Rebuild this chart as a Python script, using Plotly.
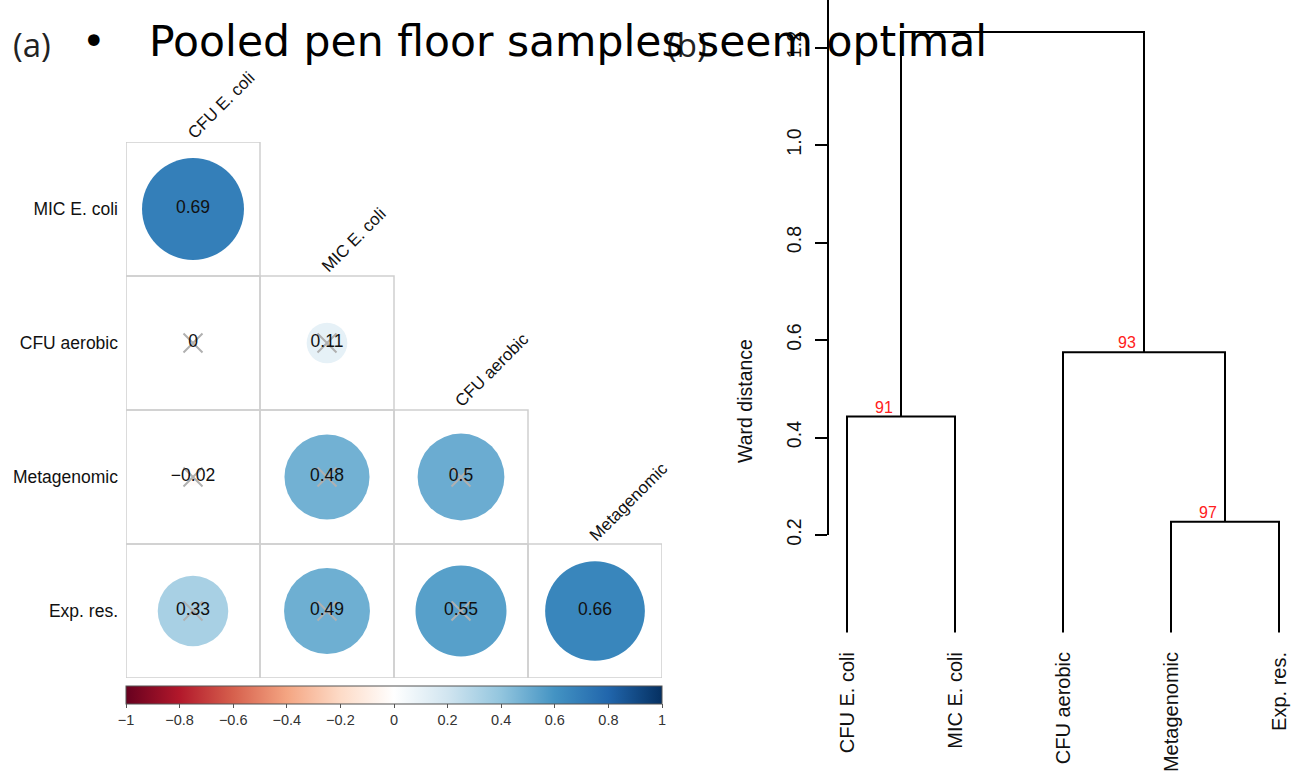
import plotly.graph_objects as go

# ---------------- data ----------------
# (a) correlation matrix, lower triangle
row_labels = ["MIC E. coli", "CFU aerobic", "Metagenomic", "Exp. res."]
col_labels = ["CFU E. coli", "MIC E. coli", "CFU aerobic", "Metagenomic"]
corr_rows = [
    [0.69],
    [0.0, 0.11],
    [-0.02, 0.48, 0.5],
    [0.33, 0.49, 0.55, 0.66],
]
significant_rows = [
    [True],
    [False, False],
    [False, False, False],
    [False, False, False, True],
]

# (b) Ward clustering of the same variables (hclust-style merge table)
leaf_labels = ["CFU E. coli", "MIC E. coli", "CFU aerobic", "Metagenomic", "Exp. res."]
merge_left = [-1, -4, -3, 1]
merge_right = [-2, -5, 2, 3]
merge_height = [0.443, 0.227, 0.575, 1.232]
bootstrap = [91, 97, 93, None]
height_ticks = [0.2, 0.4, 0.6, 0.8, 1.0, 1.2]

colorbar_ticks = [-1, -0.8, -0.6, -0.4, -0.2, 0, 0.2, 0.4, 0.6, 0.8, 1]

# ---------------- page geometry ----------------
W, H = 1294, 778
FONT = "Liberation Sans, Arial, Helvetica, sans-serif"


def fx(px):
    return px / W


def fy(py):
    return 1 - py / H


# correlation grid placement
grid_left, grid_top, cell = 126, 142, 134
n = len(row_labels)
grid_right = grid_left + n * cell
grid_bottom = grid_top + n * cell

# dendrogram placement
leaf_px0, leaf_step = 847, 108
zero_py, px_per_unit = 632.5, 487.5
axis_px = 829
dend_bottom_py = 640


def h_of(py):
    return (zero_py - py) / px_per_unit


def pos_of(px):
    return 1 + (px - leaf_px0) / leaf_step


RdBu = ["#67001F", "#B2182B", "#D6604D", "#F4A582", "#FDDBC7", "#FFFFFF",
        "#D1E5F0", "#92C5DE", "#4393C3", "#2166AC", "#053061"]
colorscale = [[i / (len(RdBu) - 1), c] for i, c in enumerate(RdBu)]

fig = go.Figure()

# ---------------- (a) correlation circles ----------------
cx, cy, cv, sig = [], [], [], []
for i, (vals, sigs) in enumerate(zip(corr_rows, significant_rows), start=1):
    for j, (v, s) in enumerate(zip(vals, sigs), start=1):
        cx.append(j)
        cy.append(i)
        cv.append(v)
        sig.append(s)

full_diam = 0.916 * cell
sizes = [full_diam * abs(v) ** 0.5 for v in cv]

fig.add_trace(go.Scatter(
    x=cx, y=cy, mode="markers", xaxis="x", yaxis="y",
    marker=dict(
        size=sizes, color=cv, colorscale=colorscale, cmin=-1, cmax=1,
        line=dict(width=0), opacity=1,
        showscale=True,
        colorbar=dict(
            orientation="h", x=fx((grid_left + grid_right) / 2), xanchor="center",
            y=fy(grid_bottom + 8), yanchor="top",
            len=grid_right - grid_left, lenmode="pixels", thickness=18,
            xpad=0, ypad=0, outlinewidth=1, outlinecolor="#555555",
            tickvals=colorbar_ticks, ticks="outside", ticklen=4,
            tickcolor="#555555", tickfont=dict(family=FONT, size=14.5, color="#333333"),
        ),
    ),
    hoverinfo="skip", showlegend=False,
))

# crosses over non-significant coefficients
fig.add_trace(go.Scatter(
    x=[x for x, s in zip(cx, sig) if not s],
    y=[y for y, s in zip(cy, sig) if not s],
    mode="markers", xaxis="x", yaxis="y",
    marker=dict(symbol="x-thin", size=19, line=dict(width=2, color="#b0b0b0")),
    hoverinfo="skip", showlegend=False,
))

# coefficient labels
fig.add_trace(go.Scatter(
    x=cx, y=cy, mode="text", xaxis="x", yaxis="y",
    text=[f"{v:g}".replace("-", "\u2212") for v in cv],
    textfont=dict(family=FONT, size=17.5, color="#111111"),
    textposition="middle center",
    hoverinfo="skip", showlegend=False,
))

shapes = []
for i, vals in enumerate(corr_rows, start=1):
    for j in range(1, len(vals) + 1):
        shapes.append(dict(
            type="rect", xref="x", yref="y",
            x0=j - 0.5, x1=j + 0.5, y0=i - 0.5, y1=i + 0.5,
            line=dict(color="#cfcfcf", width=1.5), layer="below",
        ))

annotations = []
# diagonal column headers
for j, lab in enumerate(col_labels, start=1):
    annotations.append(dict(
        x=j, y=j - 0.5, xref="x", yref="y", text=lab, showarrow=False,
        textangle=-45, xanchor="left", yanchor="bottom", xshift=-12, yshift=-3,
        font=dict(family=FONT, size=17, color="#111111"),
    ))

# ---------------- (b) dendrogram ----------------
leaf_x = {k + 1: float(k + 1) for k in range(len(leaf_labels))}
node_x, node_h = {}, {}


def child_xy(c):
    if c < 0:
        return leaf_x[-c], 0.0
    return node_x[c], node_h[c]


lx, ly = [], []
for m, (a, b, h) in enumerate(zip(merge_left, merge_right, merge_height), start=1):
    xa, ha = child_xy(a)
    xb, hb = child_xy(b)
    node_x[m] = (xa + xb) / 2
    node_h[m] = h
    lx += [xa, xa, xb, xb, None]
    ly += [ha, h, h, hb, None]

fig.add_trace(go.Scatter(
    x=lx, y=ly, mode="lines", xaxis="x2", yaxis="y2",
    line=dict(color="black", width=2), hoverinfo="skip", showlegend=False,
))

for m, bs in enumerate(bootstrap, start=1):
    if bs is None:
        continue
    annotations.append(dict(
        x=node_x[m], y=node_h[m], xref="x2", yref="y2", text=str(bs),
        showarrow=False, xanchor="right", yanchor="bottom", xshift=-6, yshift=-1,
        font=dict(family=FONT, size=16, color="#ff2020"),
    ))

# empty trace so the free-standing height axis gets its subplot
fig.add_trace(go.Scatter(x=[], y=[], xaxis="x3", yaxis="y3", showlegend=False))

annotations.append(dict(
    x=fx(745), y=fy(401), xref="paper", yref="paper", text="Ward distance",
    showarrow=False, textangle=-90, xanchor="center", yanchor="middle",
    font=dict(family=FONT, size=19.5, color="#111111"),
))

# ---------------- panel tags and headline ----------------
annotations += [
    dict(x=fx(11), y=fy(45), xref="paper", yref="paper", text="(a)", showarrow=False,
         xanchor="left", yanchor="middle",
         font=dict(family="Open Sans, sans-serif", size=33, color="#222222")),
    dict(x=fx(665), y=fy(45), xref="paper", yref="paper", text="(b)", showarrow=False,
         xanchor="left", yanchor="middle",
         font=dict(family="Open Sans, sans-serif", size=33, color="#222222")),
    dict(x=fx(94), y=fy(41), xref="paper", yref="paper", text="\u2022", showarrow=False,
         xanchor="center", yanchor="middle",
         font=dict(family="DejaVu Sans, sans-serif", size=40, color="black")),
    dict(x=fx(147), y=fy(41), xref="paper", yref="paper",
         text="Pooled pen floor samples seem optimal", showarrow=False,
         xanchor="left", yanchor="middle",
         font=dict(family="DejaVu Sans, sans-serif", size=42.5, color="black")),
]

fig.update_layout(
    width=W, height=H, autosize=False,
    margin=dict(l=0, r=0, t=0, b=0, pad=0, autoexpand=False),
    paper_bgcolor="white", plot_bgcolor="rgba(0,0,0,0)",
    shapes=shapes, annotations=annotations,
    xaxis=dict(domain=[fx(grid_left), fx(grid_right)], range=[0.5, n + 0.5],
               visible=False, anchor="y", automargin=False),
    yaxis=dict(domain=[fy(grid_bottom), fy(grid_top)], range=[n + 0.5, 0.5],
               anchor="x", showgrid=False, zeroline=False, showline=False,
               automargin=False,
               ticks="", tickvals=list(range(1, n + 1)), ticktext=row_labels,
               ticklabelstandoff=7,
               tickfont=dict(family=FONT, size=17.5, color="#111111")),
    xaxis2=dict(domain=[fx(axis_px), 1], range=[pos_of(axis_px), pos_of(W)],
                anchor="y2", showgrid=False, zeroline=False, showline=False,
                automargin=False,
                ticks="", tickvals=list(range(1, len(leaf_labels) + 1)),
                ticktext=leaf_labels, tickangle=-90, ticklabelstandoff=7,
                tickfont=dict(family=FONT, size=20, color="#111111")),
    yaxis2=dict(domain=[fy(dend_bottom_py), 1], range=[h_of(dend_bottom_py), h_of(0)],
                anchor="x2", visible=False, automargin=False),
    xaxis3=dict(domain=[fx(axis_px), 1], range=[pos_of(axis_px), pos_of(W)],
                anchor="y3", visible=False, automargin=False),
    yaxis3=dict(domain=[fy(zero_py - height_ticks[0] * px_per_unit), 1],
                range=[height_ticks[0], h_of(0)], anchor="x3", automargin=False,
                showgrid=False, zeroline=False, showline=True, linecolor="black",
                linewidth=2, ticks="outside", ticklen=12, tickwidth=2,
                tickcolor="black", tickvals=height_ticks, tickformat=".1f",
                tickangle=-90, ticklabelstandoff=6,
                tickfont=dict(family=FONT, size=19.5, color="#111111")),
)

fig.write_html("out.html")
